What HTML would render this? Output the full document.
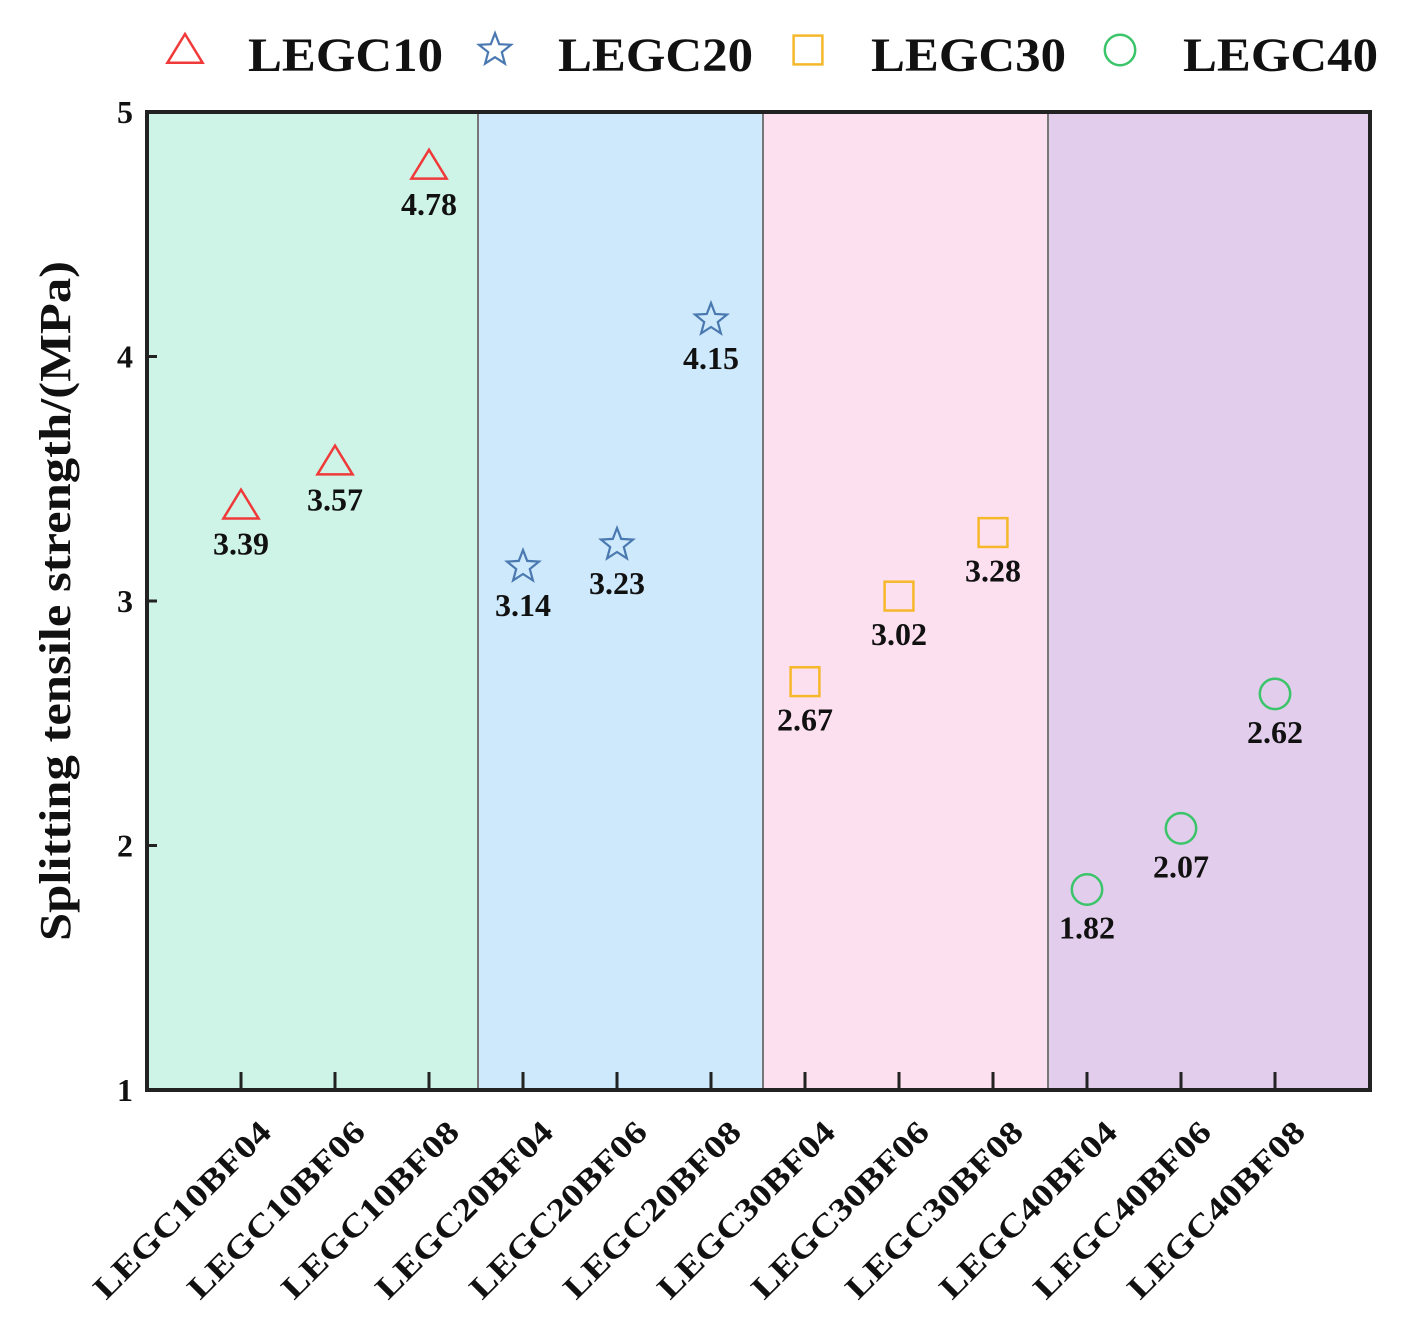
<!DOCTYPE html>
<html><head><meta charset="utf-8"><style>
html,body{margin:0;padding:0;background:#fff;}
svg{display:block;font-family:"Liberation Serif",serif;font-weight:bold;}
</style></head><body>
<svg id="chart" width="1412" height="1337" viewBox="0 0 1412 1337">
<g id="bg"></g><g id="marks"></g><g id="axes"></g><g id="legend"></g>
</svg>
<script>
const categories=["LEGC10BF04","LEGC10BF06","LEGC10BF08","LEGC20BF04","LEGC20BF06","LEGC20BF08","LEGC30BF04","LEGC30BF06","LEGC30BF08","LEGC40BF04","LEGC40BF06","LEGC40BF08"];
const seriesNames=["LEGC10","LEGC20","LEGC30","LEGC40"];
const values=[3.39,3.57,4.78,3.14,3.23,4.15,2.67,3.02,3.28,1.82,2.07,2.62];
const yTicks=[1,2,3,4,5];
const colors=["#f03a3a","#4a78b0","#f5b82a","#3cc46a"];
const bgColors=["#cdf4e6","#cde9fb","#fde0f0","#e2cdec"];
const NS="http://www.w3.org/2000/svg";
const L=147,R=1370,T=112,B=1090,step=94,x0=241;
const dividers=[L,478,763,1048,R];
const x=i=>x0+i*step;
const y=v=>B-(v-1)/(5-1)*(B-T);
function mk(tag,attrs,parent,text){const e=document.createElementNS(NS,tag);for(const k in attrs)e.setAttribute(k,attrs[k]);if(text!==undefined)e.textContent=text;document.getElementById(parent).appendChild(e);return e;}
function marker(s,cx,cy,parent,sz){
 const c=colors[s];let e;
 if(s===0){e=mk('polygon',{points:`${cx},${cy-sz} ${cx-sz*1.1},${cy+sz*0.8} ${cx+sz*1.1},${cy+sz*0.8}`,fill:'none',stroke:c,'stroke-width':2.5},parent);}
 else if(s===1){let p=[];for(let k=0;k<10;k++){const r=k%2?sz*0.45:sz*1.05;const a=-Math.PI/2+k*Math.PI/5;p.push((cx+r*Math.cos(a)).toFixed(1)+','+(cy+r*Math.sin(a)).toFixed(1));}e=mk('polygon',{points:p.join(' '),fill:'none',stroke:c,'stroke-width':2.2},parent);}
 else if(s===2){e=mk('rect',{x:cx-sz*0.9,y:cy-sz*0.9,width:sz*1.8,height:sz*1.8,fill:'none',stroke:c,'stroke-width':2.5},parent);}
 else {e=mk('circle',{cx:cx,cy:cy,r:sz*0.95,fill:'none',stroke:c,'stroke-width':2.5},parent);}
 return e;
}
for(let g=0;g<4;g++){
 const x1=dividers[g], x2=dividers[g+1];
 const r=mk('rect',{x:x1,y:T,width:x2-x1,height:B-T,fill:bgColors[g]},'bg');
 
 
 if(g>0){const l=mk('line',{x1:x1,x2:x1,y1:T,y2:B,stroke:'#777','stroke-width':2},'bg');
 
 }
}
values.forEach((v,i)=>{
 const s=Math.floor(i/3);
 const m=marker(s,x(i),y(v),'marks',16);
 
 
 const t=mk('text',{x:x(i),y:y(v)+49,'text-anchor':'middle','font-size':32,fill:'#111'},'marks',v.toFixed(2));
 
 
});
const f=mk('rect',{x:L,y:T,width:R-L,height:B-T,fill:'none',stroke:'#222','stroke-width':4},'axes');


yTicks.forEach(v=>{
 const tl=mk('line',{x1:L,x2:L+10,y1:y(v),y2:y(v),stroke:'#222','stroke-width':3},'axes');
 
 
 const t=mk('text',{x:L-14,y:y(v)+11,'text-anchor':'end','font-size':32,fill:'#111'},'axes',String(v));
 
 
});
categories.forEach((c,i)=>{
 const tl=mk('line',{x1:x(i),x2:x(i),y1:B,y2:B-18,stroke:'#222','stroke-width':3},'axes');
 
 
 const t=mk('text',{x:0,y:0,'text-anchor':'end','font-size':32,textLength:236,lengthAdjust:'spacingAndGlyphs',fill:'#111',transform:`translate(${x(i)+32},${B+44}) rotate(-45)`},'axes',c);
 
 
});
const yt=mk('text',{x:0,y:0,'text-anchor':'middle','font-size':44,textLength:680,lengthAdjust:'spacingAndGlyphs',fill:'#111',transform:`translate(70,${(T+B)/2}) rotate(-90)`},'axes','Splitting tensile strength/(MPa)');


const lx=[185,495,808,1120];
seriesNames.forEach((n,s)=>{
 const m=marker(s,lx[s],50,'legend',16);
 
 
 const t=mk('text',{x:lx[s]+63,y:71,'font-size':48,textLength:195,lengthAdjust:'spacingAndGlyphs',fill:'#111'},'legend',n);
 
 
});
</script>
</body></html>
